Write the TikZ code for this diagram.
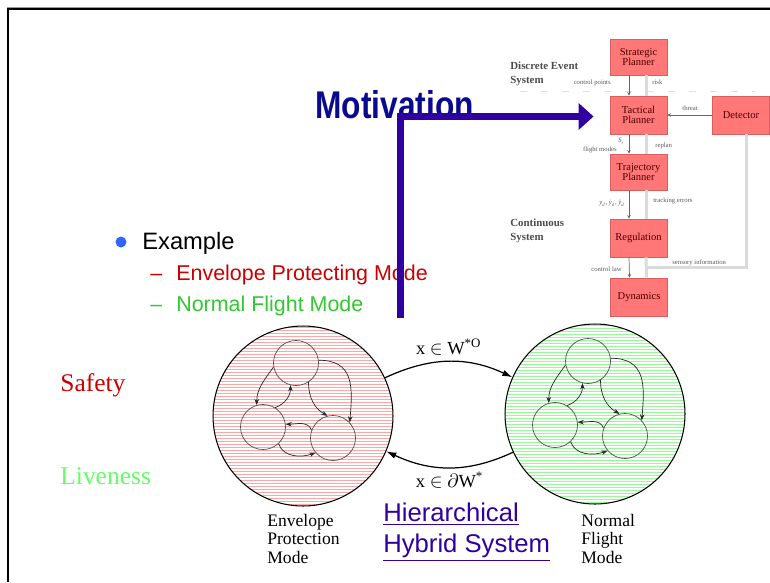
\documentclass[tikz,border=0pt]{standalone}
\usepackage{fontspec}
\setmainfont{Liberation Serif}
\setsansfont{Liberation Sans}
\usetikzlibrary{calc,arrows.meta}
\definecolor{titleblue}{RGB}{10,10,140}
\definecolor{linkblue}{RGB}{48,0,160}
\definecolor{bulletblue}{RGB}{50,100,255}
\definecolor{slidered}{RGB}{204,0,0}
\definecolor{slidegreen}{RGB}{50,200,50}
\definecolor{livegreen}{RGB}{100,255,100}
\definecolor{blockred}{RGB}{255,119,119}
\definecolor{blockedge}{RGB}{215,95,95}
\definecolor{stripered}{RGB}{255,165,165}
\definecolor{stripegreen}{RGB}{150,250,150}
\tikzset{
	mode/.style={circle, draw=black, line width=0.6pt, minimum size=3.6cm, inner sep=0pt,
		path picture={\foreach \k in {0,...,61}
			\draw[#1, line width=0.75pt] ([yshift=-\k*0.06cm-0.03cm]path picture bounding box.north west) -- ++(3.7cm,0);}},
	sub/.style={circle, draw=black!70, line width=0.4pt, minimum size=0.9cm, inner sep=0pt},
	flow/.style={black!85, line width=0.4pt, -{Stealth[length=3.5pt, width=2.6pt]}},
	trans/.style={line width=0.7pt, -{Latex[length=0.2cm, width=0.13cm]}},
	block/.style={rectangle, fill=blockred, draw=blockedge, line width=0.5pt, minimum width=1.14cm, minimum height=0.76cm, inner sep=0pt, align=center, text=black!70!red, font=\fontsize{6}{5.8}\selectfont},
	tinylabel/.style={font=\fontsize{3.8}{4.2}\selectfont, text=black!65, inner sep=0pt},
	grouplabel/.style={font=\bfseries\fontsize{6.2}{7.8}\selectfont, text=black!70, inner sep=0pt, align=left},
	darkline/.style={black!60, line width=0.4pt, -{Stealth[length=2pt, width=2pt]}},
	lightline/.style={black!14, line width=1.7pt},
	bluearrow/.style={linkblue, line width=4pt, line join=miter, -{Triangle[length=0.3cm, width=0.52cm]}},
	bodytext/.style={anchor=base west, inner sep=0pt}
}
% one mode of the hierarchy: big striped circle with three sub-states
\def\hhsmode(#1)(#2)[#3]{%
	\node[mode=#3] (#1) at (#2) {};
	\node[sub] (#1a) at ($(#1)+(-7,-53)$) {};
	\node[sub] (#1b) at ($(#1)+(-40,11)$) {};
	\node[sub] (#1d) at ($(#1)+(30,22)$) {};
	\draw[flow] (#1a.190) to[out=235, in=90] (#1b.106);
	\draw[flow] (#1b.58) to[out=20, in=270] (#1a.256);
	\draw[flow] (#1a.7) to[out=0, in=85, looseness=1.3] (#1d.43);
	\draw[flow] (#1a.303) to[out=270, in=150] (#1d.104);
	\draw[flow] (#1d.160) to[out=110, in=0] (#1b.7);
	\draw[flow] (#1b.313) to[out=290, in=200] (#1d.220);
}

\begin{document}
\begin{tikzpicture}[x=0.02cm, y=-0.02cm]
	%%%%% START %%%%%
	\useasboundingbox (0,0) rectangle (770,582);
	
	% slide frame
	\draw[black!40, line width=0.9pt] (7,7.3) -- (770,7.3);
	\draw[line width=1.2pt] (6.7,9.3) -- (770,9.3);
	\draw[line width=1.4pt] (8,8.3) -- (8,582);
	
	% block diagram
	\node[block, minimum height=0.72cm] (strat) at (638.5,57) {Strategic\\Planner};
	\node[block] (tac) at (638.5,115) {Tactical\\Planner};
	\node[block] (det) at (741,115) {Detector};
	\node[block, minimum height=0.72cm] (traj) at (638.5,172) {Trajectory\\Planner};
	\node[block] (reg) at (638.5,238) {Regulation};
	\node[block] (dyn) at (639,297) {Dynamics};
	
	\draw[black!12, dash pattern=on 4pt off 8pt] (520,91) -- (755,91);
	
	\draw[lightline] ([xshift=0.15cm]tac.north) -- ([xshift=0.15cm]strat.south);
	\draw[lightline] ([xshift=0.15cm]traj.north) -- ([xshift=0.15cm]tac.south);
	\draw[lightline] ([xshift=0.15cm]reg.north) -- ([xshift=0.15cm]traj.south);
	\draw[lightline] ([xshift=0.15cm]dyn.north) -- ([xshift=0.15cm]reg.south);
	\coordinate (sense) at (646,267);
	\draw[lightline] (sense) -| ([xshift=0.1cm]det.south);
	
	\draw[darkline] ([xshift=-0.19cm]strat.south) -- ([xshift=-0.19cm]tac.north);
	\draw[darkline] ([xshift=-0.19cm]tac.south) -- ([xshift=-0.19cm]traj.north);
	\draw[darkline] ([xshift=-0.19cm]traj.south) -- ([xshift=-0.19cm]reg.north);
	\draw[darkline] ([xshift=-0.19cm]reg.south) -- ([xshift=-0.19cm]dyn.north);
	\draw[darkline] (det.west) -- (tac.east);
	
	\node[grouplabel, anchor=north west] (des) at (510,62) {Discrete Event\\System};
	\node[grouplabel, anchor=north west] (cs) at (510,219) {Continuous\\System};
	\node[tinylabel, anchor=east] (cplab) at (611,83) {control points};
	\node[tinylabel, anchor=west] (risklab) at (652,82) {risk};
	\node[tinylabel] (thrlab) at (690,108) {threat};
	\node[tinylabel] (silab) at (621,141) {\textit{S}\textsubscript{\textit{i}}};
	\node[tinylabel, anchor=east] (fmlab) at (617,150) {flight modes};
	\node[tinylabel, anchor=west] (rplab) at (655,146) {replan};
	\node[tinylabel, anchor=east] (ydlab) at (625,203) {\textit{y}\textsubscript{\textit{d}}, \textit{\.y}\textsubscript{\textit{d}}, \textit{\"y}\textsubscript{\textit{d}}};
	\node[tinylabel, anchor=west] (telab) at (653,201) {tracking errors};
	\node[tinylabel, anchor=east] (cllab) at (622,269) {control law};
	\node[tinylabel, anchor=west] (silab2) at (672,263) {sensory information};
	
	% slide text
	\node[bodytext, text=titleblue, font=\sffamily\bfseries\fontsize{22}{26}\selectfont] (title) at (315,118) {\scalebox{0.82}[1]{Motivation}};
	\node[circle, fill=bulletblue, minimum size=0.22cm, inner sep=0pt] (bullet) at (121,242) {};
	\node[bodytext, font=\sffamily\fontsize{13.5}{16}\selectfont] (example) at (142,249) {Example};
	\node[bodytext, text=slidered, font=\sffamily\fontsize{12.2}{14}\selectfont] (epdash) at (150,280) {--};
	\node[bodytext, text=slidered, font=\sffamily\fontsize{12.2}{14}\selectfont] (eptext) at (176,280) {Envelope Protecting Mode};
	\node[bodytext, text=slidegreen, font=\sffamily\fontsize{12.2}{14}\selectfont] (nfdash) at (150,311) {--};
	\node[bodytext, text=slidegreen, font=\sffamily\fontsize{12.2}{14}\selectfont] (nftext) at (176,311) {Normal Flight Mode};
	
	\node[bodytext, text=slidered, font=\fontsize{14.5}{17}\selectfont] (safety) at (60,391) {Safety};
	\node[bodytext, text=livegreen, font=\fontsize{14.5}{17}\selectfont] (liveness) at (60,484) {Liveness};
	
	% the two modes
	\hhsmode(ep)(303,416)[stripered]
	\hhsmode(nf)(595,414)[stripegreen]
	
	\draw[trans] (ep.25) to[out=25, in=155] node[midway, above=0pt, font=\fontsize{10.5}{12}\selectfont] (inlab) {x $\in$ W\textsuperscript{*O}} (nf.156);
	\draw[trans] (nf.205) to[out=205, in=335] node[midway, below=-1pt, font=\fontsize{10.5}{12}\selectfont] (outlab) {x $\in$ $\partial$W\textsuperscript{*}} (ep.337);
	
	\node[anchor=north west, align=left, inner sep=0pt, font=\fontsize{10}{10.4}\selectfont] (eplab) at (267,514) {Envelope\\Protection\\Mode};
	\node[anchor=north west, align=left, inner sep=0pt, font=\fontsize{10}{10.4}\selectfont] (nflab) at (581,514) {Normal\\Flight\\Mode};
	\node[anchor=north west, align=left, inner sep=0pt, text=linkblue, font=\sffamily\fontsize{14.6}{17.6}\selectfont] (hhs) at (383,503) {\underline{Hierarchical}\\\underline{Hybrid System}};
	
	% arrow into the planner
	\coordinate (armfoot) at (400.5,318);
	\draw[bluearrow] (armfoot) |- ($(tac.west)+(-16,1.5)$);
	
	%%%%% END %%%%%
\end{tikzpicture}
\end{document}
